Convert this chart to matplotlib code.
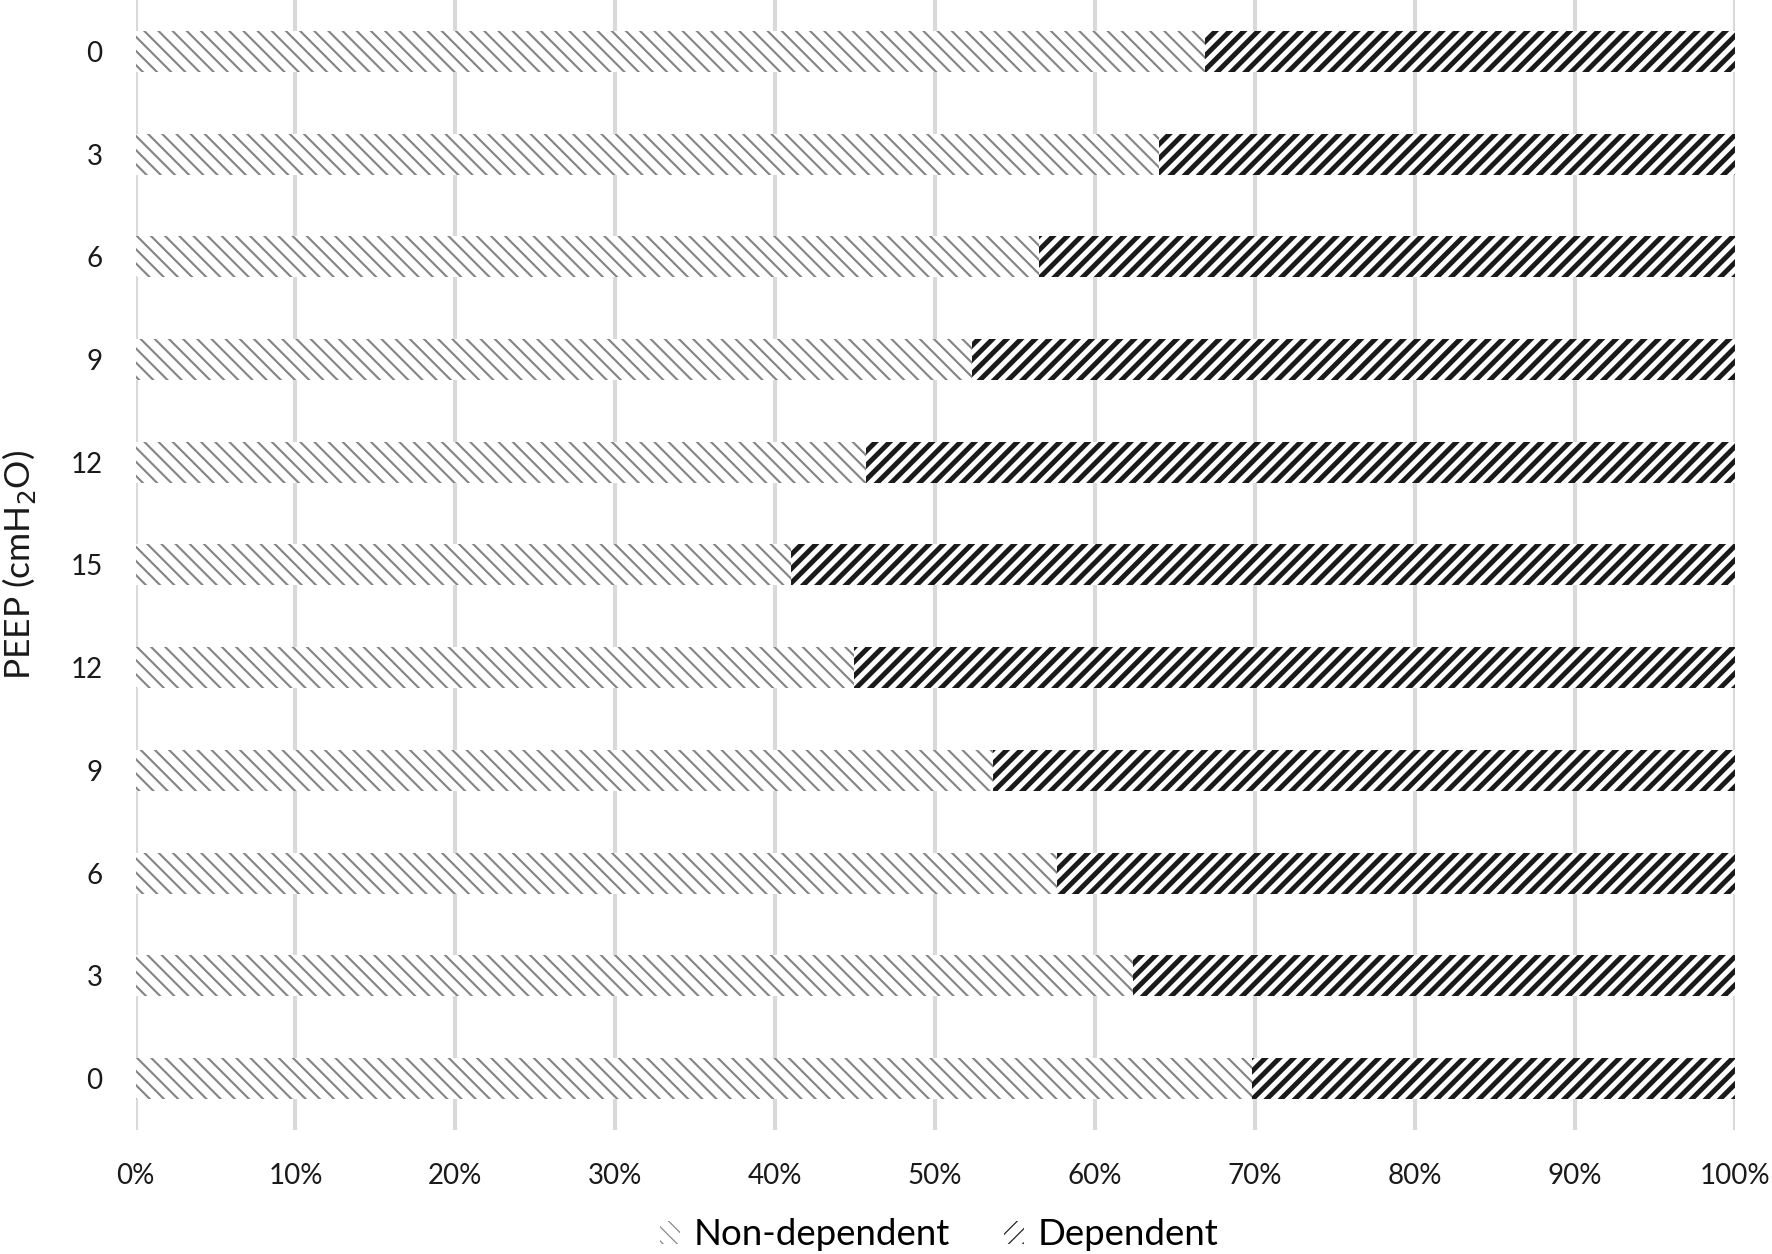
import matplotlib
matplotlib.use("Agg")

import matplotlib.pyplot as plt
from matplotlib.patches import Patch
from matplotlib.ticker import PercentFormatter

# -----------------------
# DATA (bottom to top)
# -----------------------
peep_labels = ["0", "3", "6", "9", "12", "15", "12", "9", "6", "3", "0"]
non_dependent = [69.8, 62.4, 57.6, 53.6, 44.9, 41.0, 45.7, 52.3, 56.5, 64.0, 66.9]
dependent = [100 - v for v in non_dependent]
x_ticks = [0, 10, 20, 30, 40, 50, 60, 70, 80, 90, 100]

plt.rcParams['font.family'] = ['Lato', 'DejaVu Sans']

# dpi 85 so the hatch spacing matches the reference
DPI = 85
fig = plt.figure(figsize=(1772 / DPI, 1254 / DPI), dpi=DPI)
ax = fig.add_axes([0.0765, 0.099, 0.9025, 0.901])

pos = list(range(len(peep_labels)))
grey_lw = 1.8
black_lw = 4.2

# Non-dependent: thin grey diagonal lines
with plt.rc_context({'hatch.linewidth': grey_lw}):
    bars_nd = ax.barh(pos, non_dependent, height=0.4, color='white',
                      edgecolor='#858585', linewidth=0, hatch='\\\\', zorder=2)
for b in bars_nd:
    if hasattr(b, "set_hatch_linewidth"):
        b.set_hatch_linewidth(grey_lw)

# Dependent: thick black diagonal lines
with plt.rc_context({'hatch.linewidth': black_lw}):
    bars_d = ax.barh(pos, dependent, left=non_dependent, height=0.4, color='white',
                     edgecolor='#1a1a1a', linewidth=0, hatch='//', zorder=2)
for b in bars_d:
    if hasattr(b, "set_hatch_linewidth"):
        b.set_hatch_linewidth(black_lw)

ax.set_xlim(0, 100)
ax.set_ylim(-0.5, len(peep_labels) - 0.5)
ax.set_xticks(x_ticks)
ax.xaxis.set_major_formatter(PercentFormatter(decimals=0))
ax.set_yticks(pos)
ax.set_yticklabels(peep_labels)
ax.tick_params(axis='both', length=0, labelsize=23.5, colors='#1a1a1a')
ax.tick_params(axis='x', pad=28)
ax.tick_params(axis='y', pad=28)

ax.grid(axis='x', color='#d9d9d9', linewidth=3.5, zorder=0)
ax.set_axisbelow(True)
for s in ax.spines.values():
    s.set_visible(False)

ax.set_ylabel("PEEP (cmH$_2$O)", fontsize=30, color='#1a1a1a')
ax.yaxis.set_label_coords(-0.061, 0.5)

handles = []
with plt.rc_context({'hatch.linewidth': grey_lw}):
    handles.append(Patch(facecolor='white', edgecolor='#858585', linewidth=0, hatch='\\\\'))
with plt.rc_context({'hatch.linewidth': black_lw}):
    handles.append(Patch(facecolor='white', edgecolor='#1a1a1a', linewidth=0, hatch='//'))
fig.legend(handles, ["Non-dependent", "Dependent"], loc='center',
           bbox_to_anchor=(0.53, 0.0152), ncol=2, frameon=False, fontsize=31,
           handlelength=0.55, handleheight=0.55, columnspacing=1.5,
           handletextpad=0.35, borderpad=0.0)

plt.savefig("out.png", dpi=DPI)
